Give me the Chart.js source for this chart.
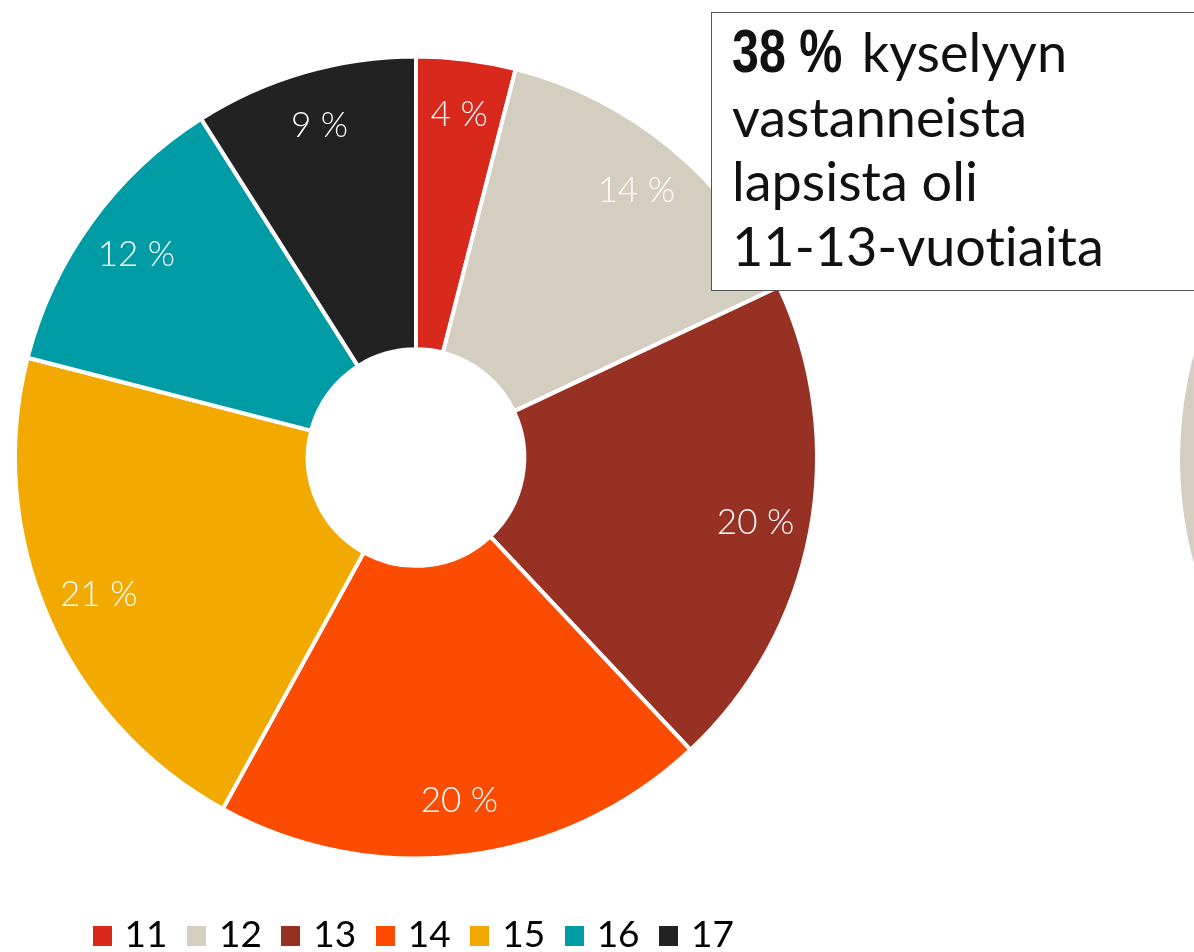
<!DOCTYPE html>
<html>
<head>
<meta charset="utf-8">
<script src="https://cdn.jsdelivr.net/npm/chart.js@4"></script>
<style>
  html, body { margin: 0; padding: 0; background: #fff; overflow: hidden; }
  body { width: 1194px; height: 952px; position: relative; }
  #wrap { position: absolute; left: 0; top: 0; width: 832px; height: 964px; }
  #next { position: absolute; left: 1180px; top: 58px; width: 802px; height: 802px; }
  #note {
    position: absolute; left: 711px; top: 12px; width: 520px; height: 279px;
    border: 1px solid #555; background: #fff; box-sizing: border-box;
    font-family: Lato, sans-serif; font-size: 54px; line-height: 64.5px; color: #111;
    padding: 6px 0 0 20px; font-variant-ligatures: none; white-space: nowrap;
  }
  #note .big { display: inline-block; width: 116px; }
  #note b {
    font-family: "Liberation Sans", sans-serif; font-size: 62px;
    font-weight: bold; display: inline-block; transform: scaleX(0.78); transform-origin: left;
  }
</style>
</head>
<body>
<div id="wrap"><canvas id="myChart"></canvas></div>
<div id="next"><canvas id="nextChart"></canvas></div>
<div id="note"><span class="big"><b>38 %</b></span> kyselyyn<br>vastanneista<br>lapsista oli<br>11-13-vuotiaita</div>
<script>
var ages = ['11', '12', '13', '14', '15', '16', '17'];
var shares = [4, 14, 20, 20, 21, 12, 9];
var colors = ['#d9291c', '#d3cec0', '#973124', '#fc4c02', '#f2a900', '#009ca6', '#222222'];

// next chart is cut off at the right edge, only its grey part shows
var nextAges = ['12'];
var nextShares = [100];

var sliceLabels = {
    id: 'sliceLabels',
    afterDatasetsDraw: function(chart) {
        var ctx = chart.ctx;
        var meta = chart.getDatasetMeta(0);
        ctx.save();
        ctx.fillStyle = '#fff';
        ctx.font = '300 35px Lato';
        ctx.textAlign = 'center';
        ctx.textBaseline = 'middle';
        meta.data.forEach(function(arc, i) {
            var p = arc.getProps(['x', 'y', 'startAngle', 'endAngle', 'outerRadius'], true);
            var mid = (p.startAngle + p.endAngle) / 2;
            var r = p.outerRadius * 0.862;
            ctx.fillText(shares[i] + ' %', p.x + Math.cos(mid) * r, p.y + Math.sin(mid) * r);
        });
        ctx.restore();
    }
};

// legend squares, a bit wider than the legend box so the text sits closer
function square(color) {
    var c = document.createElement('canvas');
    c.width = 19;
    c.height = 20;
    var g = c.getContext('2d');
    g.fillStyle = color;
    g.fillRect(0, 0, 19, 20);
    return c;
}

var ctx = document.getElementById('myChart');
var myChart = new Chart(ctx, {
    type: 'doughnut',
    data: {
        labels: ages,
        datasets: [{
            data: shares,
            backgroundColor: colors,
            borderColor: '#fff',
            borderWidth: 4,
            hoverOffset: 0
        }]
    },
    options: {
        responsive: true,
        maintainAspectRatio: false,
        animation: false,
        cutout: '27%',
        layout: { padding: { top: 23, bottom: 0, left: 13, right: 13 } },
        plugins: {
            tooltip: { enabled: false },
            legend: {
                position: 'bottom',
                labels: {
                    font: { family: 'Lato', size: 37 },
                    color: '#333',
                    usePointStyle: true,
                    boxWidth: 8,
                    boxHeight: 20,
                    padding: 25,
                    generateLabels: function(chart) {
                        return ages.map(function(a, i) {
                            return { text: a, fillStyle: colors[i], strokeStyle: colors[i], lineWidth: 0,
                                pointStyle: square(colors[i]), index: i, hidden: false };
                        });
                    }
                }
            }
        }
    },
    plugins: [sliceLabels]
});

new Chart(document.getElementById('nextChart'), {
    type: 'doughnut',
    data: {
        labels: nextAges,
        datasets: [{ data: nextShares, backgroundColor: ['#d3cec0'], borderWidth: 0 }]
    },
    options: {
        responsive: true,
        maintainAspectRatio: false,
        animation: false,
        cutout: '27%',
        plugins: { legend: { display: false }, tooltip: { enabled: false } }
    }
});
</script>
</body>
</html>
